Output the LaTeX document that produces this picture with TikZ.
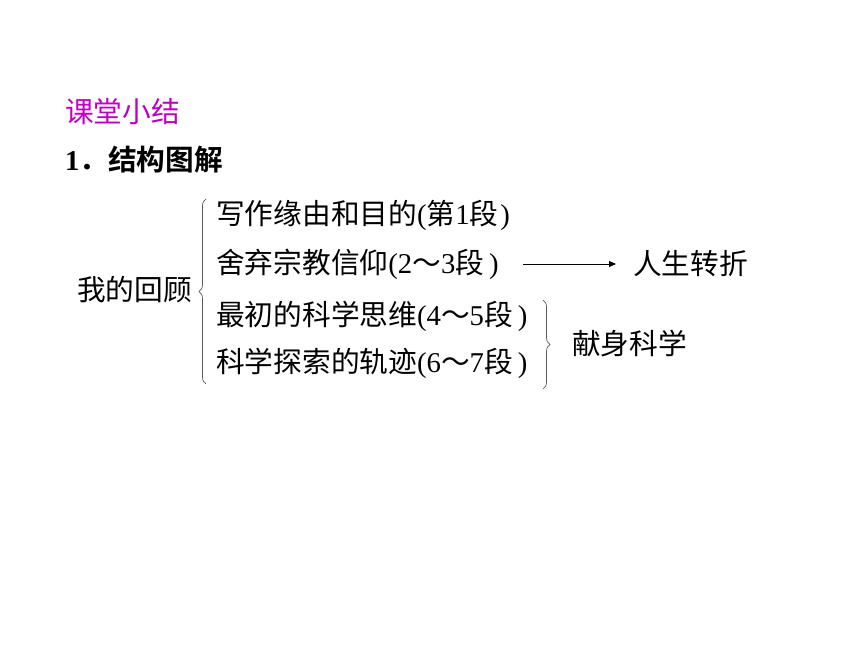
\documentclass[tikz,border=0pt]{standalone}
\usepackage{fontspec}
\setmainfont{Liberation Serif}
\newfontfamily\cjk{Noto Sans CJK SC}
\newfontfamily\cjkb{Noto Sans CJK SC Bold}
\usetikzlibrary{decorations.pathreplacing,arrows.meta}
\definecolor{mag}{RGB}{192,0,192}
\newcommand{\zh}[1]{{\cjk #1}}
\newcommand{\rp}{\kern5pt)}
\begin{document}
\begin{tikzpicture}[x=1pt,y=-1pt,
  txt/.style={anchor=west,inner sep=0pt,font=\fontsize{28.7}{32}\selectfont},
  brc/.style={draw=black!65,line width=0.7pt,decorate,decoration={brace,amplitude=7pt}}]
\useasboundingbox[fill=white] (0,0) rectangle (860,645);
\node[txt,text=mag] (title) at (65,112) {\zh{课堂小结}};
\node[txt] (sub) at (65,160) {\textbf{1}{\cjkb ．结构图解}};
\node[txt] (root) at (77,290) {\zh{我的回顾}};
\node[txt] (a) at (216,215) {\zh{写作缘由和目的}(\zh{第}1\zh{段}\kern2pt)};
\node[txt] (b) at (216,264) {\zh{舍弃宗教信仰}(2\zh{～}3\zh{段}\rp};
\node[txt] (c) at (216,316) {\zh{最初的科学思维}(4\zh{～}5\zh{段}\rp};
\node[txt] (d) at (216,363) {\zh{科学探索的轨迹}(6\zh{～}7\zh{段}\rp};
\node[txt] (t) at (633,264) {\zh{人生转折}};
\node[txt] (s) at (572,344) {\zh{献身科学}};
\coordinate (lb1) at (206,384);
\coordinate (lb2) at (206,199);
\coordinate (rb1) at (543,300);
\coordinate (rb2) at (543,389);
\draw[brc] (lb1) -- (lb2);
\draw[brc] (rb1) -- (rb2);
\draw[line width=0.8pt,-{Triangle[length=7pt,width=6pt]}] (523,264) coordinate (ar0) -- (616,264) coordinate (ar1);
\end{tikzpicture}
\end{document}
